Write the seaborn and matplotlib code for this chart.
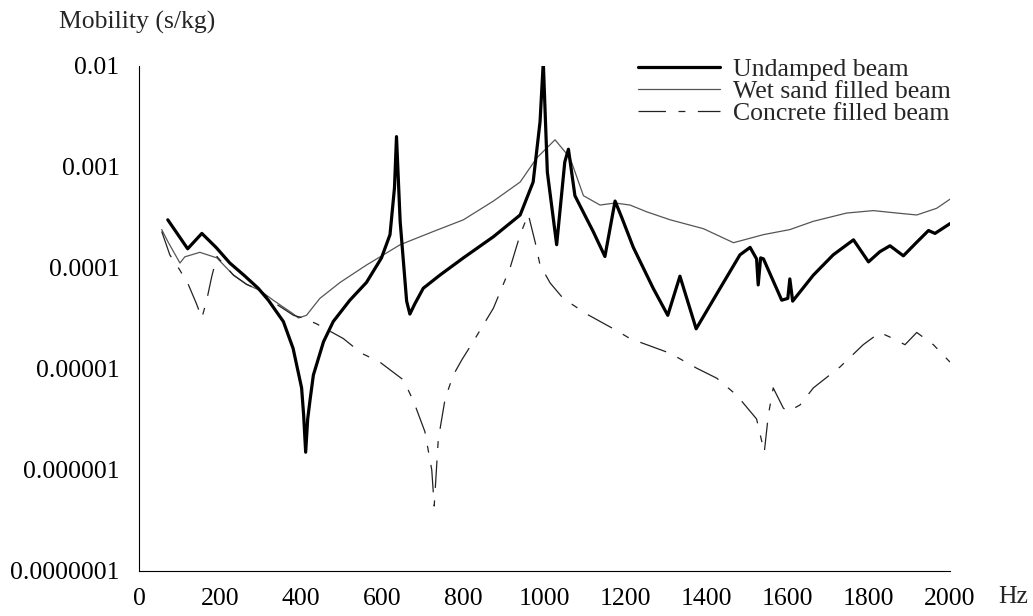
import numpy as np
import pandas as pd
import matplotlib
matplotlib.use("Agg")
import matplotlib.pyplot as plt
from matplotlib.ticker import FixedLocator, FixedFormatter
from matplotlib.lines import Line2D
import seaborn as sns

# ---------------- data ----------------
undamped_f = [71, 120, 155, 190, 224, 260, 294, 319, 356, 380, 401, 406, 411, 416, 422, 430, 455, 479,
              520, 561, 598, 619, 630, 635, 644, 660, 668, 680, 701, 742, 800, 874, 940, 972,
              989, 997, 1007, 1030, 1050, 1059, 1075, 1100, 1120, 1149, 1174, 1190, 1219, 1268,
              1304, 1334, 1374, 1433, 1482, 1507, 1523, 1527, 1533, 1540, 1585, 1600, 1605,
              1612, 1663, 1712, 1762, 1799, 1827, 1852, 1885, 1918, 1947, 1963, 2000]
undamped_v = [3.0e-4, 1.55e-4, 2.2e-4, 1.6e-4, 1.12e-4, 8.4e-5, 6.3e-5, 4.8e-5, 2.95e-5, 1.6e-5, 6.5e-6, 3.5e-6,
              1.5e-6, 3.2e-6, 5.0e-6, 8.7e-6, 1.86e-5, 2.95e-5,
              4.8e-5, 7.2e-5, 1.26e-4, 2.14e-4, 6.2e-4, 2.0e-3, 2.9e-4, 4.7e-5, 3.5e-5, 4.4e-5, 6.3e-5,
              8.5e-5, 1.26e-4, 2.04e-4, 3.35e-4, 7.1e-4,
              2.8e-3, 1.1e-2, 8.9e-4, 1.7e-4, 1.12e-3, 1.5e-3, 5.2e-4, 3.3e-4, 2.3e-4, 1.3e-4, 4.6e-4,
              3.2e-4, 1.6e-4, 6.3e-5,
              3.4e-5, 8.3e-5, 2.5e-5, 6.3e-5, 1.35e-4, 1.6e-4, 1.23e-4, 6.8e-5, 1.26e-4, 1.23e-4,
              4.8e-5, 5.0e-5, 7.8e-5,
              4.7e-5, 8.5e-5, 1.35e-4, 1.9e-4, 1.15e-4, 1.45e-4, 1.66e-4, 1.32e-4, 1.8e-4,
              2.35e-4, 2.2e-4, 2.75e-4]

wet_f = [56, 72, 101, 113, 150, 192, 233, 265, 298, 331, 381, 393, 413, 446, 496, 561, 644,
         726, 800, 874, 940, 981, 1026, 1063, 1096, 1137, 1174, 1211, 1252, 1310, 1392, 1466,
         1540, 1605, 1663, 1745, 1811, 1869, 1918, 1967, 2000]
wet_v = [2.4e-4, 1.8e-4, 1.12e-4, 1.29e-4, 1.43e-4, 1.26e-4, 8.5e-5, 6.9e-5, 6.0e-5, 4.8e-5,
         3.5e-5, 3.2e-5, 3.4e-5, 5.0e-5, 7.2e-5, 1.07e-4, 1.7e-4,
         2.3e-4, 3.0e-4, 4.6e-4, 7.1e-4, 1.23e-3, 1.86e-3, 1.23e-3, 5.2e-4, 4.2e-4, 4.4e-4,
         4.2e-4, 3.6e-4, 3.0e-4, 2.45e-4, 1.78e-4,
         2.14e-4, 2.4e-4, 2.9e-4, 3.5e-4, 3.7e-4, 3.5e-4, 3.35e-4, 3.9e-4, 4.8e-4]

concrete_f = [56, 76, 101, 122, 141, 155, 167, 179, 192, 233, 265, 298, 331, 381, 405, 438,
              504, 549, 594, 652, 677, 705, 722, 728, 738, 755, 775, 796, 824, 874, 915, 940,
              960, 977, 989, 1014, 1046, 1104, 1174, 1211, 1310, 1375, 1425, 1474, 1523, 1542,
              1552, 1564, 1589, 1601, 1630, 1663, 1729, 1786, 1827, 1860, 1889, 1918, 1959, 2000]
concrete_v = [2.3e-4, 1.35e-4, 9.5e-5, 6.8e-5, 4.5e-5, 3.2e-5, 4.8e-5, 8.1e-5, 1.3e-4, 8.5e-5,
              6.9e-5, 6.0e-5, 4.6e-5, 3.4e-5, 3.2e-5, 2.8e-5,
              2.0e-5, 1.43e-5, 1.17e-5, 7.8e-6, 4.8e-6, 2.4e-6, 1.0e-6, 4.4e-7, 2.0e-6, 5.1e-6,
              8.7e-6, 1.23e-5, 1.86e-5, 4.0e-5, 1.0e-4, 2.14e-4,
              3.4e-4, 1.8e-4, 1.07e-4, 7.1e-5, 5.0e-5, 3.5e-5, 2.45e-5, 2.0e-5, 1.43e-5, 1.02e-5,
              8.1e-6, 5.5e-6, 3.2e-6, 1.5e-6,
              3.5e-6, 6.5e-6, 4.1e-6, 3.8e-6, 4.4e-6, 6.5e-6, 1.05e-5, 1.74e-5, 2.3e-5, 2.0e-5,
              1.74e-5, 2.3e-5, 1.74e-5, 1.17e-5]

series_names = ["Undamped beam", "Wet sand filled beam", "Concrete filled beam"]

x_ticks = [0, 200, 400, 600, 800, 1000, 1200, 1400, 1600, 1800, 2000]
y_ticks = [1e-7, 1e-6, 1e-5, 1e-4, 1e-3, 1e-2]
y_tick_labels = ["0.0000001", "0.000001", "0.00001", "0.0001", "0.001", "0.01"]

# ---------------- styling ----------------
sns.set_style("white")
plt.rcParams["font.family"] = ["Liberation Serif", "DejaVu Serif"]
FS = 18.5
CONC_DASH = (0, (22, 10, 5.5, 10))

fig = plt.figure(figsize=(10.33, 6.16), dpi=100)
ax = fig.add_axes([139 / 1033, 1 - 571 / 616, 811 / 1033, 505 / 616])

df_u = pd.DataFrame({"f": undamped_f, "v": undamped_v})
df_w = pd.DataFrame({"f": wet_f, "v": wet_v})
df_c = pd.DataFrame({"f": concrete_f, "v": concrete_v})

sns.lineplot(data=df_w, x="f", y="v", ax=ax, color="#555555", lw=0.9, sort=False)
sns.lineplot(data=df_c, x="f", y="v", ax=ax, color="#222222", lw=0.9, sort=False,
             linestyle=CONC_DASH)
sns.lineplot(data=df_u, x="f", y="v", ax=ax, color="black", lw=2.3, sort=False)

ax.set_yscale("log")
ax.set_xlim(0, 2000)
ax.set_ylim(1e-7, 1e-2)
ax.yaxis.set_major_locator(FixedLocator(y_ticks))
ax.yaxis.set_major_formatter(FixedFormatter(y_tick_labels))
ax.yaxis.set_minor_locator(FixedLocator([]))
ax.xaxis.set_major_locator(FixedLocator(x_ticks))
ax.set_xlabel("")
ax.set_ylabel("")

for s in ["top", "right"]:
    ax.spines[s].set_visible(False)
for s in ["left", "bottom"]:
    ax.spines[s].set_color("black")
    ax.spines[s].set_linewidth(0.8)

ax.tick_params(axis="both", which="major", direction="inout", length=10, width=0.8,
               colors="black", labelsize=FS)
ax.tick_params(axis="y", pad=9)
ax.tick_params(axis="x", pad=7)
ax.set_facecolor("white")

fig.text(59 / 1033, 1 - 22 / 616, "Mobility (s/kg)", fontsize=FS, ha="left", va="center")
fig.text(1013 / 1033, 1 - 597 / 616, "Hz", fontsize=FS, ha="center", va="center")

handles = [Line2D([], [], color="black", lw=2.3),
           Line2D([], [], color="#555555", lw=0.9),
           Line2D([], [], color="#222222", lw=0.9, linestyle=CONC_DASH)]
leg = ax.legend(handles, series_names, loc="upper left",
                bbox_to_anchor=((638 - 139) / 811, 1.015), frameon=False, fontsize=FS,
                handlelength=3.2, handletextpad=0.5, labelspacing=-0.05,
                borderpad=0, borderaxespad=0)

fig.savefig("out.png", dpi=100, facecolor="white")
